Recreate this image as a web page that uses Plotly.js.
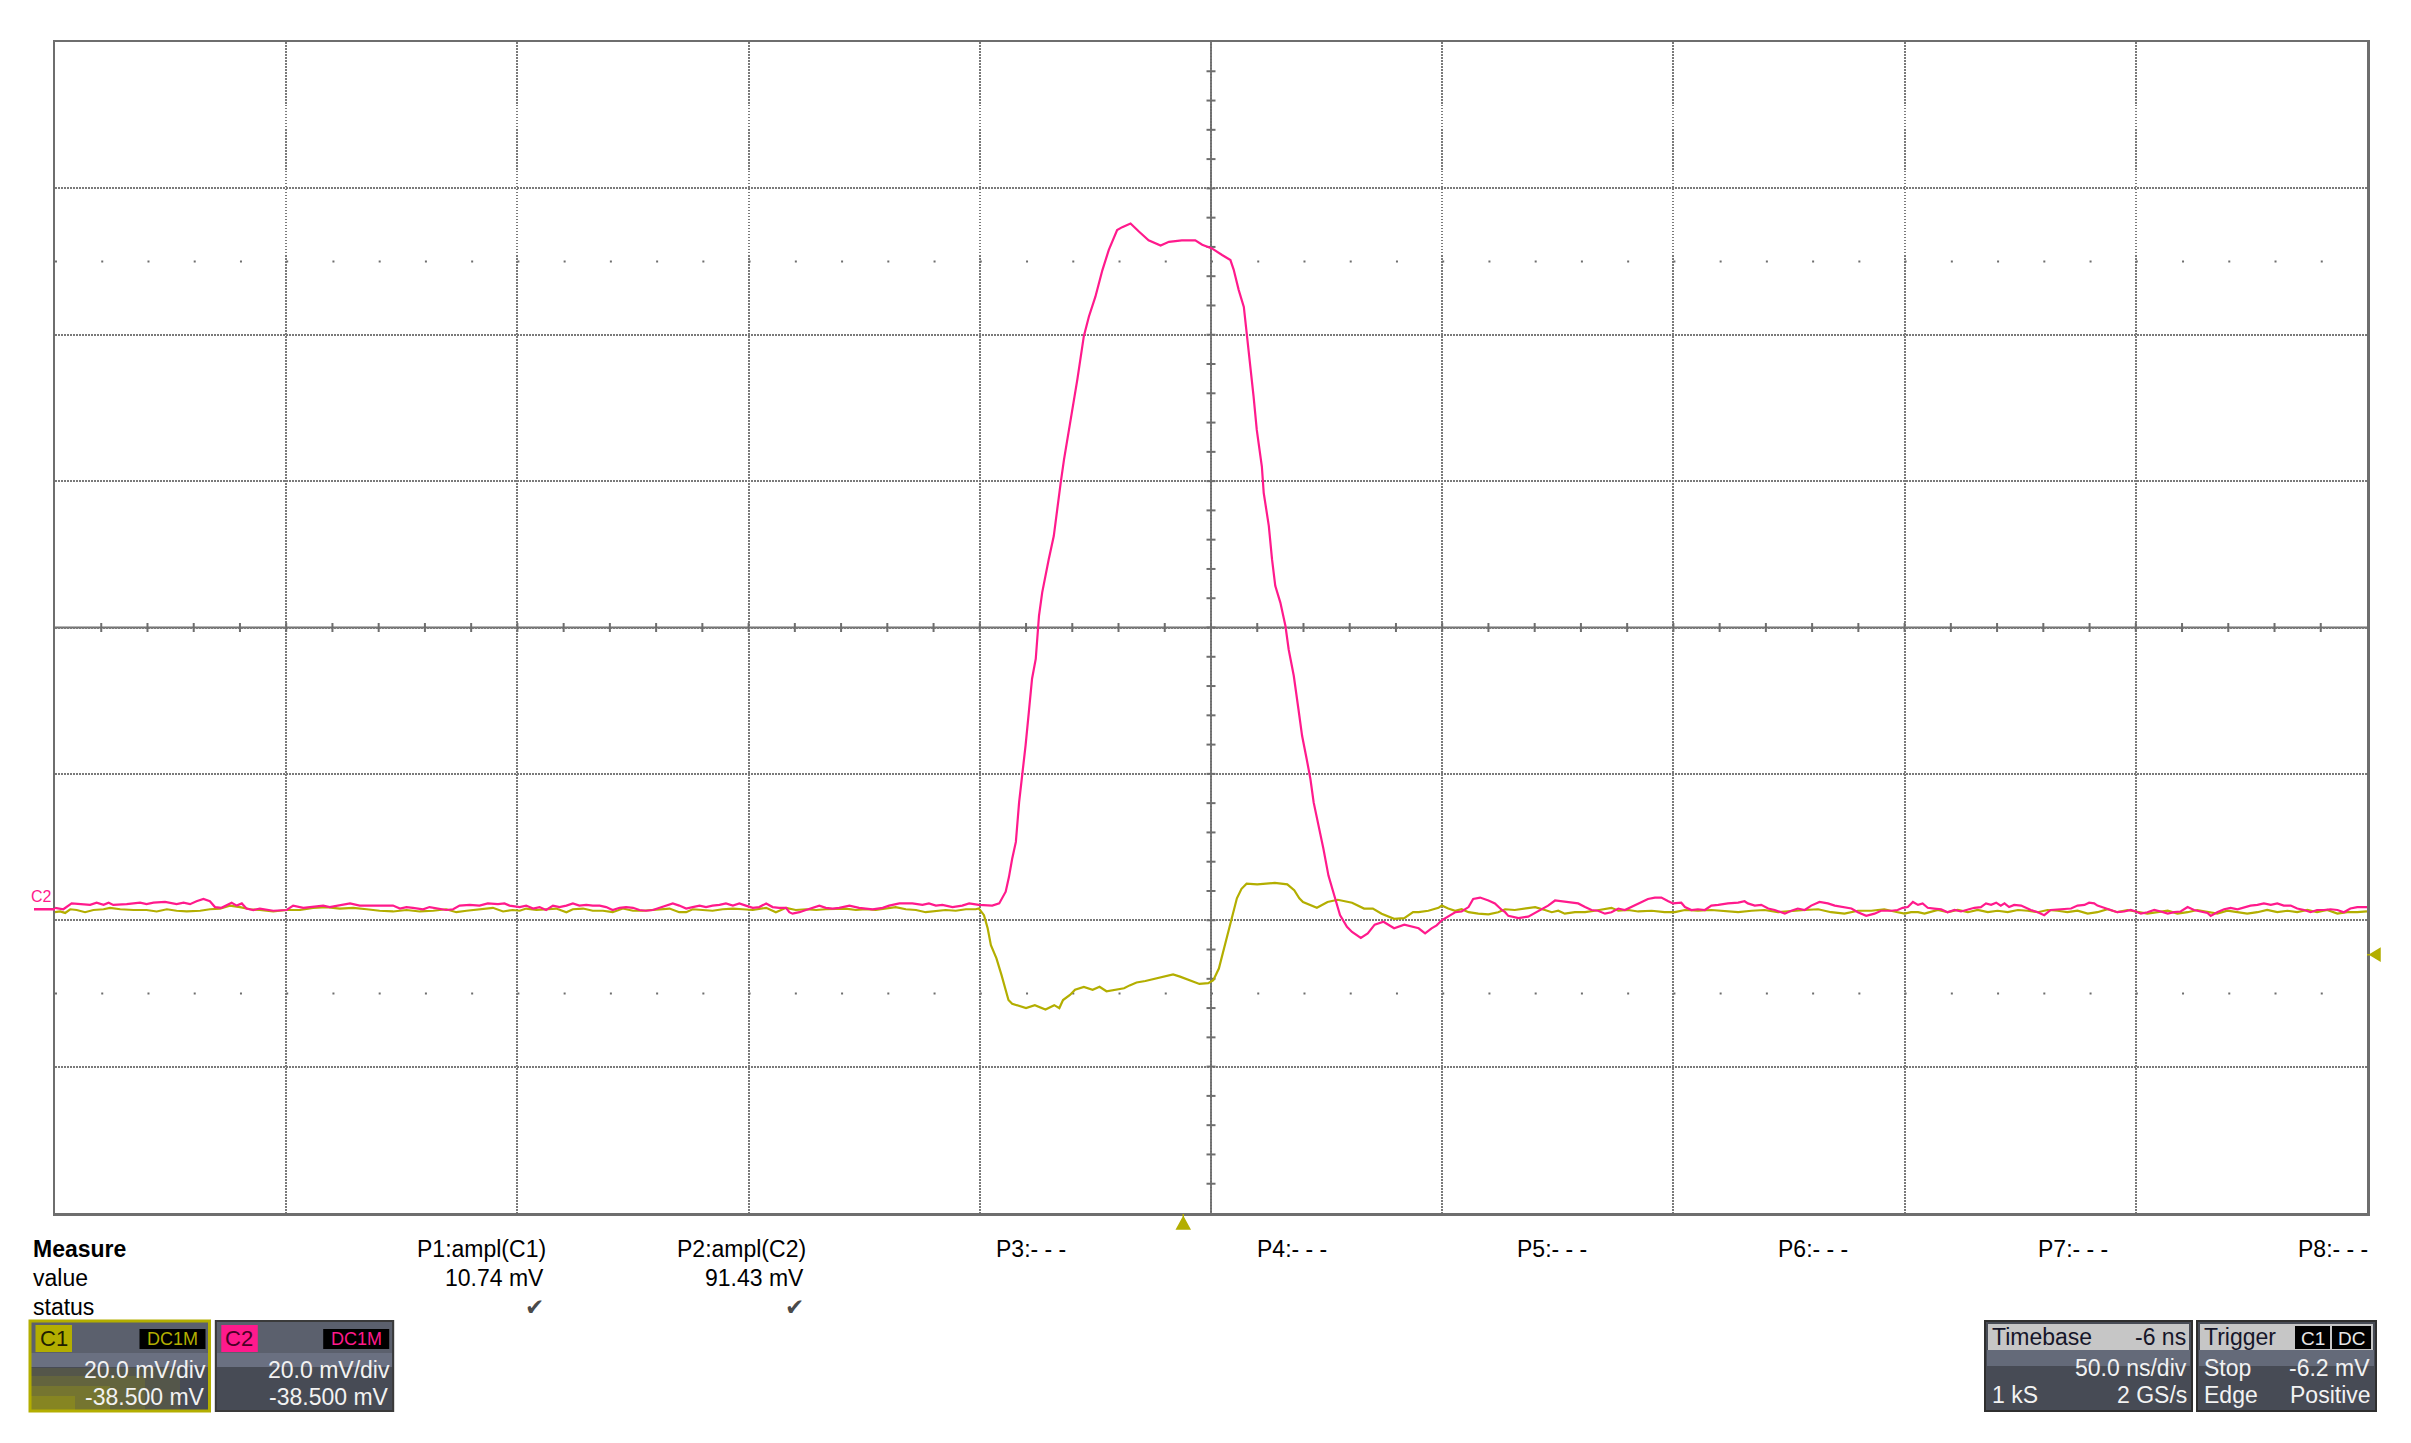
<!DOCTYPE html>
<html>
<head>
<meta charset="utf-8">
<title>C1 / C2 capture</title>
<script src="https://cdn.plot.ly/plotly-3.0.1.min.js"></script>
<style>
body { margin:0; background:#fff; }
#scope { width:2411px; height:1443px; }
</style>
</head>
<body>
<div id="scope"></div>
<script>
// C2 (magenta) samples, time in ns, value in mV
var c2Time = [
-244.0,-242.2,-240.4,-238.6,-236.4,-235.0,-233.5,-232.4,-231.4,-228.5,
-225.6,-224.2,-222.7,-220.2,-219.5,-217.7,-216.2,-214.8,-213.4,-211.9,
-210.5,-209.4,-208.0,-206.9,-205.8,-204.7,-203.6,-202.6,-201.1,-199.7,
-198.2,-196.8,-193.9,-192.5,-190.3,-188.2,-186.0,-184.6,-182.4,-180.2,
-178.1,-175.9,-173.0,-170.9,-169.4,-168.0,-166.6,-164.4,-163.0,-161.2,
-159.4,-157.9,-156.5,-154.3,-152.2,-150.4,-148.2,-146.8,-145.7,-143.5,
-142.1,-140.6,-139.2,-137.8,-136.3,-134.9,-133.4,-132.0,-130.6,-129.1,
-127.7,-126.2,-124.8,-123.4,-121.9,-120.5,-119.0,-117.6,-116.2,-114.7,
-113.3,-111.8,-110.4,-109.0,-107.5,-106.1,-104.6,-103.2,-101.8,-100.3,
-98.9,-97.4,-96.0,-94.6,-93.1,-91.7,-90.2,-88.8,-87.4,-85.9,
-85.2,-84.5,-83.0,-81.6,-80.2,-78.7,-77.3,-75.8,-74.4,-72.2,
-70.1,-67.2,-65.0,-63.6,-61.4,-58.6,-56.4,-55.0,-53.5,-52.1,
-49.9,-47.8,-46.3,-44.2,-41.3,-39.8,-38.4,-37.7,-37.0,-36.2,
-35.5,-34.8,-34.1,-33.4,-32.7,-31.9,-31.2,-30.5,-29.6,-29.1,
-28.0,-27.3,-26.5,-25.8,-24.7,-22.9,-21.5,-20.4,-19.0,-17.5,
-16.1,-14.3,-13.2,-11.4,-9.6,-7.5,-4.9,-3.1,-0.3,2.6,
4.1,6.2,8.4,10.2,10.9,12.0,13.1,13.8,14.5,15.2,
15.9,17.0,17.4,18.5,19.2,19.9,21.0,22.1,22.8,23.9,
24.9,25.7,26.7,27.5,28.2,29.3,30.3,31.4,32.9,33.9,
35.4,36.5,38.4,39.9,41.4,43.3,45.6,47.8,50.9,52.3,
53.7,54.8,55.9,57.3,58.8,60.2,61.7,62.7,64.2,66.0,
67.4,68.9,69.6,70.3,72.5,74.6,75.7,77.1,78.9,80.4,
81.8,83.3,85.4,86.9,88.3,89.7,91.2,92.6,94.1,95.5,
96.9,98.4,100.5,102.0,103.4,104.9,105.9,107.7,108.5,109.9,
111.3,112.8,114.2,115.7,117.8,120.0,121.4,122.1,123.6,125.0,
126.5,127.9,130.1,131.5,132.9,134.4,135.8,137.6,139.4,140.9,
143.0,144.5,145.9,147.7,149.5,150.9,153.1,154.5,155.6,156.7,
157.8,158.9,159.9,161.0,162.4,163.9,165.3,166.8,168.2,169.7,
171.1,172.5,173.6,174.7,175.8,176.8,177.6,178.6,179.7,181.2,
182.2,183.3,184.8,186.2,187.6,189.1,190.5,192.0,193.4,194.9,
195.9,197.0,197.7,199.2,200.6,202.0,203.5,204.9,206.0,207.1,
208.5,210.0,211.4,212.9,214.3,215.7,217.2,218.6,220.0,221.5,
222.2,223.6,225.1,226.5,228.0,229.4,230.8,232.3,233.7,235.2,
236.6,238.0,239.5,240.9,242.4,243.8,245.2,246.7,248.1,249.6,
251.0,252.4,253.9,256.0
];
var c2Volt = [
0.2,0.0,0.8,0.7,0.6,0.9,0.6,0.9,0.6,0.7,
0.9,0.7,0.9,1.0,0.9,0.7,0.9,0.7,1.1,1.4,
1.1,0.3,0.2,0.5,0.9,0.5,0.8,0.1,-0.1,0.1,
-0.1,-0.2,-0.1,0.5,0.2,0.3,0.5,0.3,0.5,0.8,
0.5,0.5,0.5,0.5,0.1,0.3,0.2,0.0,0.3,0.1,
-0.1,0.0,0.5,0.6,0.5,0.8,0.7,0.8,0.5,0.3,
0.5,0.1,0.3,-0.1,0.5,0.3,0.5,0.8,0.5,0.6,
0.5,0.5,0.3,-0.1,0.2,0.3,0.2,-0.1,-0.2,-0.1,
0.2,0.5,0.8,0.5,0.1,0.3,0.5,0.3,0.5,0.6,
0.8,0.5,0.8,0.5,0.2,0.3,0.8,0.3,0.2,0.2,
-0.4,-0.6,-0.4,-0.1,0.2,0.5,0.2,0.1,0.2,0.5,
0.2,0.0,0.2,0.5,0.8,0.8,0.6,0.8,0.5,0.6,
0.3,0.5,0.8,0.6,0.5,0.8,2.4,4.4,6.9,9.2,
14.6,18.3,22.4,26.9,31.5,34.2,40.1,43.3,46.4,47.8,
51.0,54.6,58.3,61.4,65.5,72.4,78.3,81.0,83.7,87.3,
90.1,92.8,93.2,93.7,92.6,91.4,90.7,91.2,91.4,91.4,
90.8,90.3,89.4,88.7,87.4,84.6,82.3,78.3,74.6,70.1,
65.5,60.5,56.9,52.4,47.8,44.2,41.9,38.7,35.5,31.9,
27.4,23.7,20.5,17.8,14.6,11.5,8.3,4.6,1.5,-0.8,
-2.4,-3.1,-3.9,-3.3,-2.1,-1.7,-2.6,-2.1,-2.6,-3.3,
-2.6,-2.2,-1.5,-1.0,-0.4,-0.3,0.3,1.4,1.6,1.2,
0.8,-0.1,-0.4,-0.9,-1.2,-1.0,-0.6,-0.1,0.5,1.2,
1.1,0.9,0.8,0.3,-0.1,-0.2,-0.6,-0.4,0.1,-0.1,
0.3,0.8,1.4,1.6,1.6,1.1,0.8,0.9,0.3,-0.1,
0.0,-0.1,0.5,0.6,0.8,0.9,1.1,0.8,0.5,0.6,
0.1,-0.1,-0.6,-0.2,0.1,-0.1,0.5,1.0,0.8,0.5,
0.3,0.1,-0.4,-0.9,-0.6,-0.2,-0.2,-0.1,0.2,0.3,
1.0,0.6,0.8,0.2,0.1,0.0,-0.4,-0.1,-0.3,0.0,
0.2,0.3,0.8,0.6,0.9,0.5,0.8,0.3,0.6,0.5,
0.2,-0.1,-0.4,-0.8,-0.1,0.0,0.1,0.1,0.5,0.6,
0.9,0.8,0.5,0.2,-0.1,-0.4,-0.3,-0.1,-0.3,-0.6,
-0.4,-0.1,-0.3,-0.6,-0.4,-0.3,0.3,-0.1,-0.3,-0.5,
-0.9,-0.4,0.0,0.2,0.0,0.3,0.5,0.6,0.8,0.6,
0.8,0.5,0.5,0.1,-0.1,-0.4,-0.1,-0.1,0.0,-0.1,
-0.4,0.1,0.3,0.3
];

// C1 (yellow) samples
var c1Time = [
-244.0,-242.9,-241.8,-240.7,-239.3,-237.5,-235.7,-233.5,-232.1,-229.9,
-227.0,-224.2,-222.0,-219.8,-217.7,-215.5,-212.6,-210.5,-208.3,-206.2,
-204.0,-201.8,-199.7,-196.8,-193.9,-191.0,-188.2,-185.3,-182.4,-179.5,
-176.6,-173.8,-170.9,-168.0,-165.1,-162.2,-159.4,-157.2,-155.0,-152.2,
-149.3,-147.1,-145.0,-143.5,-142.1,-139.9,-137.8,-135.6,-133.4,-132.0,
-129.8,-127.7,-125.5,-123.4,-121.2,-119.0,-116.9,-114.7,-113.3,-111.1,
-109.0,-107.5,-106.1,-103.9,-101.8,-99.6,-97.4,-95.3,-93.1,-90.2,
-88.1,-85.9,-83.8,-81.6,-79.4,-77.3,-75.1,-73.0,-70.8,-68.6,
-66.5,-64.3,-62.2,-60.0,-57.8,-55.7,-53.5,-51.4,-49.2,-47.0,
-44.9,-44.2,-43.1,-42.3,-41.6,-40.4,-39.3,-38.5,-37.8,-37.0,
-34.0,-32.1,-29.8,-27.9,-26.8,-26.0,-24.5,-23.4,-21.5,-19.6,
-18.1,-16.6,-14.3,-12.8,-11.6,-10.1,-8.2,-6.0,-4.4,-2.2,
-0.7,1.6,3.5,5.4,6.5,7.7,8.8,10.0,10.7,11.6,
12.6,13.7,16.0,17.9,19.8,22.5,24.0,25.1,25.9,28.9,
31.2,33.4,36.5,39.1,41.0,42.9,45.6,47.8,49.7,50.9,
53.0,55.2,55.9,57.3,58.8,60.2,61.7,63.8,66.0,68.1,
69.6,71.7,73.9,76.1,78.2,79.7,81.1,82.5,84.7,86.9,
89.0,91.2,92.6,94.1,96.2,98.4,101.3,104.1,106.3,108.5,
111.3,114.2,117.1,120.0,122.9,125.7,128.6,131.5,134.4,137.3,
140.1,143.0,145.9,148.8,151.6,154.5,156.0,157.4,158.9,160.3,
161.7,163.2,165.3,167.5,169.7,171.8,174.0,176.1,178.3,180.5,
182.6,184.8,186.9,189.1,191.2,193.4,195.6,197.7,199.9,202.0,
204.2,206.4,208.5,210.7,212.9,215.0,217.2,219.3,221.5,223.6,
225.8,228.0,230.1,232.3,234.4,236.6,238.8,240.9,243.1,245.2,
247.4,249.6,251.7,253.9,256.0
];
var c1Volt = [
-0.4,-0.3,-0.5,0.0,-0.1,-0.4,-0.1,0.0,0.2,0.0,
-0.1,-0.1,-0.3,0.0,-0.2,-0.3,-0.2,0.0,0.1,0.5,
0.3,0.0,-0.1,-0.3,-0.1,-0.1,0.2,0.3,0.1,0.2,
0.0,-0.2,-0.3,-0.1,-0.3,-0.2,0.0,-0.4,-0.2,0.0,
0.2,-0.3,-0.1,-0.2,0.1,-0.1,0.0,0.1,-0.4,0.0,
0.1,-0.2,-0.2,-0.4,0.1,-0.2,-0.2,-0.1,0.0,0.1,
-0.4,-0.4,0.0,-0.1,-0.2,0.0,0.1,0.0,-0.1,0.2,
-0.4,0.2,-0.1,0.0,-0.1,0.0,0.0,0.1,-0.1,0.0,
-0.1,0.1,0.3,0.0,-0.1,-0.4,-0.2,-0.1,-0.2,0.0,
0.0,0.1,-0.8,-2.6,-4.9,-6.7,-9.0,-10.8,-12.4,-12.9,
-13.5,-13.1,-13.7,-13.1,-13.5,-12.4,-11.7,-11.0,-10.6,-11.0,
-10.6,-11.2,-11.0,-10.8,-10.4,-10.0,-9.8,-9.5,-9.2,-8.9,
-9.2,-9.8,-10.2,-10.1,-9.7,-8.1,-5.4,-2.6,-0.8,1.5,
2.8,3.5,3.4,3.5,3.6,3.4,2.6,1.5,1.0,0.2,
1.0,1.3,0.9,0.1,0.1,-0.6,-1.3,-1.2,-0.4,-0.4,
-0.2,0.2,0.5,0.1,-0.2,0.0,-0.4,-0.6,-0.7,-0.4,
0.0,-0.1,0.1,0.3,-0.1,-0.4,-0.2,-0.6,-0.4,-0.4,
-0.2,0.0,0.2,-0.2,-0.1,-0.3,-0.2,-0.4,-0.4,-0.1,
-0.2,-0.1,-0.2,-0.4,-0.2,-0.1,-0.4,-0.2,-0.1,0.0,
-0.4,-0.6,-0.2,-0.2,0.0,-0.4,-0.6,-0.4,-0.4,-0.6,
-0.4,-0.1,-0.4,-0.1,-0.4,-0.1,-0.4,-0.2,-0.4,-0.1,
-0.2,-0.4,-0.1,-0.2,-0.4,-0.2,-0.6,-0.4,0.0,-0.4,
-0.1,-0.4,-0.6,-0.4,-0.2,-0.6,-0.4,-0.1,-0.4,-0.6,
-0.2,-0.4,-0.6,-0.4,-0.1,-0.4,-0.2,-0.4,-0.1,-0.4,
-0.1,-0.6,-0.4,-0.4,-0.3
];

// scope settings
var timeRange = [-244, 256];      // 50 ns/div, -6 ns delay
var voltRange = [-41.5, 118.5];   // 20 mV/div, -38.5 mV offset
var centerTime = 6, centerVolt = 38.5;
var triggerLevel = -6.2;

var measureNames = ['P1:ampl(C1)', 'P2:ampl(C2)', 'P3:- - -', 'P4:- - -', 'P5:- - -', 'P6:- - -', 'P7:- - -', 'P8:- - -'];
var measureValues = ['10.74 mV', '91.43 mV', '', '', '', '', '', ''];
var measureStatus = ['\u2714', '\u2714', '', '', '', '', '', ''];

var yellow = '#b3ae00', pink = '#ff1a8c', grat = '#6e6e6e';
var font = 'Liberation Sans, Arial, sans-serif';

// page pixels -> paper fraction
var plotL = 55, plotR = 2367, plotT = 42, plotB = 1213;
function px(x){ return (x - plotL) / (plotR - plotL); }
function py(y){ return (plotB - y) / (plotB - plotT); }

var shapes = [];
var notes = [];

function rect(x0, y0, x1, y1, fill, line, lw){
    shapes.push({type:'rect', xref:'paper', yref:'paper', x0:px(x0), x1:px(x1), y0:py(y1), y1:py(y0),
        fillcolor:fill, line:{color:line || fill, width:lw || 0}, layer:'above'});
}
function label(s, x, y, anchor, size, color, fam){
    notes.push({xref:'paper', yref:'paper', x:px(x), y:py(y), xanchor:anchor, yanchor:'middle',
        text:s, showarrow:false, borderpad:0,
        font:{family:fam || font, size:size, color:color}});
}

// center cross with minor ticks
shapes.push({type:'line', xref:'x', x0:centerTime, x1:centerTime, yref:'paper', y0:0, y1:1, line:{color:grat, width:2}, layer:'between'});
shapes.push({type:'line', xref:'paper', x0:0, x1:1, yref:'y', y0:centerVolt, y1:centerVolt, line:{color:grat, width:2}, layer:'between'});
for (var k = -24; k <= 24; k++) {
    shapes.push({type:'line', xref:'x', x0:centerTime + 10 * k, x1:centerTime + 10 * k,
        yref:'y', ysizemode:'pixel', yanchor:centerVolt, y0:-4.5, y1:4.5, line:{color:grat, width:2}, layer:'between'});
}
for (var j = -19; j <= 19; j++) {
    shapes.push({type:'line', yref:'y', y0:centerVolt + 4 * j, y1:centerVolt + 4 * j,
        xref:'x', xsizemode:'pixel', xanchor:centerTime, x0:-4.5, x1:4.5, line:{color:grat, width:2}, layer:'between'});
}
// dotted rows at +-2.5 div
var dotGap = ((plotR - plotL) / 50 - 2).toFixed(2);
[centerVolt + 50, centerVolt - 50].forEach(function(v){
    shapes.push({type:'line', xref:'x', x0:timeRange[0], x1:timeRange[1], yref:'y', y0:v, y1:v,
        line:{color:grat, width:2, dash:'2px,' + dotGap + 'px'}, layer:'between'});
});

// trigger markers and C2 ground marker
shapes.push({type:'path', xref:'x', xsizemode:'pixel', xanchor:0, yref:'paper', ysizemode:'pixel', yanchor:0,
    path:'M 0,-1 L 0,-4 L 6.5,-16 L -6.5,-16 L 0,-4 Z', fillcolor:yellow, line:{color:yellow, width:1.5}, layer:'above'});
shapes.push({type:'path', xref:'paper', xsizemode:'pixel', xanchor:1, yref:'y', ysizemode:'pixel', yanchor:triggerLevel,
    path:'M 0,0 L 3,0 L 13,6 L 13,-6 L 3,0 Z', fillcolor:yellow, line:{color:yellow, width:1.5}, layer:'above'});
shapes.push({type:'line', xref:'paper', x0:px(34), x1:0, yref:'y', y0:0, y1:0, line:{color:pink, width:2.5}, layer:'above'});
label('C2', 30, 896, 'left', 16, pink);

// measure table
label('<b>Measure</b>', 32, 1249, 'left', 23, '#000');
label('value', 32, 1278, 'left', 23, '#000');
label('status', 32, 1307, 'left', 23, '#000');
for (var i = 0; i < measureNames.length; i++) {
    var right = 546.5 + 260.4 * i;
    label(measureNames[i], right, 1249, 'right', 23, '#000');
    if (measureValues[i]) label(measureValues[i], right - 2, 1278, 'right', 23, '#000');
    if (measureStatus[i]) label(measureStatus[i], right - 2, 1307, 'right', 23, '#4a4a4a', 'DejaVu Sans');
}

// channel descriptor boxes
function channelBox(x0, x1, name, color, active){
    rect(x0, 1321, x1, 1411, '#474b55');
    rect(x0 + 1, 1322, x1 - 1, 1353, '#5b606d');
    rect(x0 + 1, 1353, x1 - 1, 1367, '#6a7081');
    if (active) {
        rect(x0 + 1, 1368, x0 + 150, 1410, 'rgba(180,176,0,0.12)');
        rect(x0 + 1, 1376, x0 + 115, 1410, 'rgba(180,176,0,0.16)');
        rect(x0 + 1, 1386, x0 + 80, 1410, 'rgba(180,176,0,0.22)');
        rect(x0 + 1, 1396, x0 + 45, 1410, 'rgba(180,176,0,0.28)');
    }
    rect(x0, 1321, x1, 1411, 'rgba(0,0,0,0)', active ? color : '#3a3a3a', active ? 3 : 2);
    rect(x0 + 5.5, 1325, x0 + 42, 1352, color);
    rect(x1 - 70, 1329, x1 - 4, 1349, '#000');
    label(name, x0 + 23.5, 1338.5, 'center', 22, active ? '#1e1e00' : '#4a0026');
    label('DC1M', x1 - 37, 1339, 'center', 18, color);
    label('20.0 mV/div', x1 - 2.5, 1370, 'right', 23, '#f2f2f2');
    label('-38.500 mV', x1 - 3.5, 1397, 'right', 23, '#f2f2f2');
}
channelBox(30, 209.5, 'C1', yellow, true);
channelBox(215.8, 393.2, 'C2', pink, false);

// timebase / trigger boxes
function infoBox(x0, x1){
    rect(x0, 1321, x1, 1411, '#474b55', '#2f2f2f', 2);
    rect(x0 + 2, 1350, x1 - 2, 1366, '#646a79');
    rect(x0 + 3, 1324, x1 - 3, 1350, '#c6c6c6');
}
infoBox(1985, 2192);
label('Timebase', 1991, 1337, 'left', 23, '#16162a');
label('-6 ns', 2187, 1337, 'right', 23, '#16162a');
label('50.0 ns/div', 2188, 1368, 'right', 23, '#f2f2f2');
label('1 kS', 1991, 1395, 'left', 23, '#f2f2f2');
label('2 GS/s', 2188, 1395, 'right', 23, '#f2f2f2');

infoBox(2197, 2376);
rect(2295, 1326, 2330, 1349, '#000');
rect(2332, 1326, 2371, 1349, '#000');
label('Trigger', 2203, 1337, 'left', 23, '#16162a');
label('C1', 2312.5, 1338, 'center', 19, '#e6e6e6');
label('DC', 2351.5, 1338, 'center', 19, '#e6e6e6');
label('Stop', 2203, 1368, 'left', 23, '#f2f2f2');
label('-6.2 mV', 2371, 1368, 'right', 23, '#f2f2f2');
label('Edge', 2203, 1395, 'left', 23, '#f2f2f2');
label('Positive', 2372, 1395, 'right', 23, '#f2f2f2');

var traces = [
    {x:c1Time, y:c1Volt, type:'scatter', mode:'lines', name:'C1', line:{color:yellow, width:2.2}, hoverinfo:'skip'},
    {x:c2Time, y:c2Volt, type:'scatter', mode:'lines', name:'C2', line:{color:pink, width:2.2}, hoverinfo:'skip'}
];

var axisBase = {
    showgrid:true, gridcolor:'#7a7a7a', gridwidth:2, griddash:'1.5px,1.5px',
    zeroline:false, showticklabels:false, ticks:'',
    showline:true, mirror:true, linecolor:grat, linewidth:2.5, fixedrange:true
};

var layout = {
    width:2411, height:1443,
    margin:{l:plotL, r:2411 - plotR, t:plotT, b:1443 - plotB, pad:0},
    paper_bgcolor:'#ffffff', plot_bgcolor:'#ffffff',
    showlegend:false,
    font:{family:font},
    xaxis:Object.assign({}, axisBase, {range:timeRange, tick0:centerTime, dtick:50}),
    yaxis:Object.assign({}, axisBase, {range:voltRange, tick0:centerVolt, dtick:20}),
    shapes:shapes,
    annotations:notes
};

Plotly.newPlot('scope', traces, layout, {staticPlot:true, displayModeBar:false});
</script>
</body>
</html>
